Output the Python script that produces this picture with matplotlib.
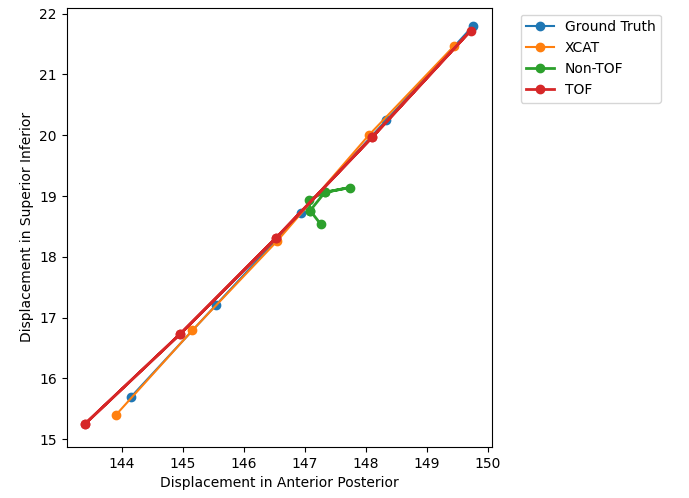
import matplotlib
matplotlib.use("Agg")
from matplotlib import pyplot as plt

# displacement per respiratory phase (AP, SI)
gt_x = [144.16, 145.55, 146.94, 148.34, 149.76]
gt_y = [15.70, 17.21, 18.72, 20.25, 21.80]

xcat_x = [143.90, 145.16, 146.55, 148.05, 149.45]
xcat_y = [15.39, 16.79, 18.26, 20.00, 21.47]

nontof_x = [147.26, 147.09, 147.33, 147.74, 147.33, 147.07, 147.09]
nontof_y = [18.54, 18.76, 19.06, 19.14, 19.06, 18.94, 18.76]

tof_x = [143.40, 144.96, 146.53, 148.11, 149.72, 148.11, 146.53, 144.96, 143.40]
tof_y = [15.25, 16.73, 18.31, 19.97, 21.72, 19.97, 18.31, 16.73, 15.25]

fig = plt.figure(figsize=(6.89, 4.98), dpi=100)
ax = fig.add_axes([0.0968, 0.1024, 0.6177, 0.8823])

ax.plot(gt_x, gt_y, marker='o', label='Ground Truth')
ax.plot(xcat_x, xcat_y, marker='o', label='XCAT')
ax.plot(nontof_x, nontof_y, marker='o', linewidth=2, label='Non-TOF')
ax.plot(tof_x, tof_y, marker='o', linewidth=2, label='TOF')

ax.set_xlim(143.10, 150.075)
ax.set_ylim(14.87, 22.10)
ax.set_xlabel('Displacement in Anterior Posterior')
ax.set_ylabel('Displacement in Superior Inferior')
ax.legend(bbox_to_anchor=(1.05, 1), loc='upper left')

fig.savefig('out.png')
plt.close(fig)
